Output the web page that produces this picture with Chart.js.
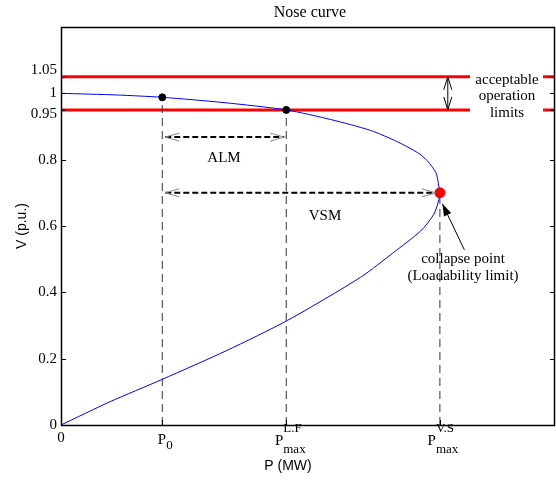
<!DOCTYPE html>
<html>
<head>
<meta charset="utf-8">
<script src="https://cdn.jsdelivr.net/npm/chart.js@4.4.0/dist/chart.umd.min.js"></script>
<style>
  body { margin: 0; background: #fff; }
  canvas { display: block; }
</style>
</head>
<body>
<canvas id="myChart" width="556" height="481"></canvas>
<script>
// axis ranges
const xMax = 100;
const yMax = 1.2;

// nose curve, lower branch then upper branch
const lowerP = [0, 9.9, 20.4, 33.6, 45.8, 60.6, 67.3, 72.8, 75.5, 76.5, 76.7];
const lowerV = [0, 0.07, 0.137, 0.225, 0.315, 0.445, 0.52, 0.585, 0.636, 0.68, 0.70];
const upperP = [76.7, 76.3, 75.9, 74.2, 72.2, 68.1, 62.7, 54.6, 45.6, 33, 20.5, 11.3, 0];
const upperV = [0.70, 0.736, 0.761, 0.796, 0.821, 0.854, 0.888, 0.921, 0.95, 0.972, 0.988, 0.995, 1.0];

// operating points
const P0 = 20.5, V0 = 0.988;
const PLF = 45.6, VLF = 0.95;
const PVS = 76.7, VVS = 0.70;

// limits and margins
const vLow = 0.95, vHigh = 1.05;
const almV = 0.868;
const limitArrowP = 78.3;

// ticks
const yTicks = [0, 0.2, 0.4, 0.6, 0.8, 0.95, 1, 1.05];
const yTickLabels = ['0', '0.2', '0.4', '0.6', '0.8', '0.95', '1', '1.05'];
const xTicks = [0, P0, PLF, PVS];

const serif = '"Liberation Serif", "Times New Roman", serif';
const sans = '"Liberation Sans", Arial, sans-serif';

const nose = [];
lowerP.forEach((p, i) => nose.push({x: p, y: lowerV[i]}));
upperP.forEach((p, i) => nose.push({x: p, y: upperV[i]}));

function vline(p, v) {
  return {
    data: [{x: p, y: 0}, {x: p, y: v}],
    showLine: true, borderColor: '#333', borderWidth: 1, borderDash: [8, 5],
    pointRadius: 0
  };
}
function hline(v) {
  return {
    data: [{x: 0, y: v}, {x: xMax, y: v}],
    showLine: true, borderColor: '#ff0000', borderWidth: 3, pointRadius: 0
  };
}

function chevron(ctx, x, y, dir) {
  ctx.save();
  ctx.strokeStyle = '#888';
  ctx.lineWidth = 1;
  ctx.setLineDash([]);
  ctx.beginPath();
  ctx.moveTo(x - dir * 14, y - 4);
  ctx.lineTo(x, y);
  ctx.lineTo(x - dir * 14, y + 4);
  ctx.stroke();
  ctx.restore();
}

function dashedArrow(ctx, x1, x2, y) {
  ctx.save();
  ctx.strokeStyle = '#000';
  ctx.lineWidth = 2;
  ctx.setLineDash([6, 3]);
  ctx.beginPath();
  ctx.moveTo(x1, y);
  ctx.lineTo(x2, y);
  ctx.stroke();
  ctx.restore();
  chevron(ctx, x1, y, -1);
  chevron(ctx, x2, y, 1);
}

function pLabel(ctx, x, y, sub, sup) {
  ctx.font = '15px ' + serif;
  const wP = ctx.measureText('P').width;
  ctx.font = '13px ' + serif;
  const wS = Math.max(ctx.measureText(sub).width, sup ? ctx.measureText(sup).width : 0);
  const left = x - (wP + wS) / 2;
  ctx.textAlign = 'left';
  ctx.textBaseline = 'middle';
  ctx.font = '15px ' + serif;
  ctx.fillText('P', left, y);
  ctx.font = '13px ' + serif;
  ctx.fillText(sub, left + wP, y + (sup ? 9 : 6));
  if (sup) ctx.fillText(sup, left + wP, y - 12);
}

const noseDecor = {
  id: 'noseDecor',
  afterDatasetsDraw(chart) {
    const ctx = chart.ctx;
    const a = chart.chartArea;
    const xs = chart.scales.x, ys = chart.scales.y;

    // white box behind the limit text
    ctx.fillStyle = '#fff';
    ctx.fillRect(470, ys.getPixelForValue(vHigh) - 3, 73, ys.getPixelForValue(vLow) - ys.getPixelForValue(vHigh) + 6);

    // frame
    ctx.save();
    ctx.strokeStyle = '#000';
    ctx.lineWidth = 1.5;
    ctx.strokeRect(a.left + 0.5, a.top + 0.5, a.right - a.left - 1, a.bottom - a.top);
    // inward ticks
    ctx.lineWidth = 1;
    ctx.beginPath();
    yTicks.forEach(t => {
      const y = Math.round(ys.getPixelForValue(t)) + 0.5;
      ctx.moveTo(a.left, y); ctx.lineTo(a.left + 5, y);
      ctx.moveTo(a.right, y); ctx.lineTo(a.right - 5, y);
    });
    xTicks.forEach(t => {
      const x = Math.round(xs.getPixelForValue(t)) + 0.5;
      ctx.moveTo(x, a.bottom); ctx.lineTo(x, a.bottom - 5);
    });
    ctx.stroke();
    ctx.restore();

    // ALM and VSM margins
    const yAlm = ys.getPixelForValue(almV);
    dashedArrow(ctx, xs.getPixelForValue(P0) + 3, xs.getPixelForValue(PLF) - 2, yAlm);
    const yVsm = ys.getPixelForValue(VVS);
    dashedArrow(ctx, xs.getPixelForValue(P0) + 3, xs.getPixelForValue(PVS) - 4, yVsm);

    // limit double arrow
    const xa = xs.getPixelForValue(limitArrowP);
    const y1 = ys.getPixelForValue(vHigh), y2 = ys.getPixelForValue(vLow);
    ctx.save();
    ctx.strokeStyle = '#000';
    ctx.lineWidth = 1;
    ctx.beginPath();
    ctx.moveTo(xa, y1); ctx.lineTo(xa, y2);
    ctx.moveTo(xa - 4, y1 + 13); ctx.lineTo(xa, y1); ctx.lineTo(xa + 4, y1 + 13);
    ctx.moveTo(xa - 4, y2 - 13); ctx.lineTo(xa, y2); ctx.lineTo(xa + 4, y2 - 13);
    ctx.stroke();

    // collapse point arrow
    const cx = xs.getPixelForValue(PVS) + 2.5, cy = ys.getPixelForValue(VVS) + 11;
    const tx = cx + 22, ty = cy + 46;
    const ang = Math.atan2(cy - ty, cx - tx);
    ctx.beginPath();
    ctx.moveTo(tx, ty); ctx.lineTo(cx, cy);
    ctx.stroke();
    ctx.fillStyle = '#000';
    ctx.beginPath();
    ctx.moveTo(cx, cy);
    ctx.lineTo(cx - 12 * Math.cos(ang) + 4 * Math.sin(ang), cy - 12 * Math.sin(ang) - 4 * Math.cos(ang));
    ctx.lineTo(cx - 12 * Math.cos(ang) - 4 * Math.sin(ang), cy - 12 * Math.sin(ang) + 4 * Math.cos(ang));
    ctx.closePath();
    ctx.fill();
    ctx.restore();

    // texts
    ctx.fillStyle = '#000';
    ctx.textBaseline = 'middle';
    ctx.textAlign = 'center';
    ctx.font = '16px ' + serif;
    ctx.fillText('Nose curve', 310, 13);
    ctx.font = '15px ' + serif;
    ctx.fillText('ALM', 224, yAlm + 21);
    ctx.fillText('VSM', 325, yVsm + 23);
    ctx.fillText('acceptable', 507, 80);
    ctx.fillText('operation', 507, 96);
    ctx.fillText('limits', 507, 113);
    ctx.fillText('collapse point', 463, 259);
    ctx.fillText('(Loadability limit)', 463, 276);

    // y tick labels
    ctx.textAlign = 'right';
    yTicks.forEach((t, i) => {
      let off = 0;
      if (t === vHigh) off = -7;
      if (t === vLow) off = 4;
      ctx.fillText(yTickLabels[i], a.left - 4, ys.getPixelForValue(t) + off);
    });

    // x tick labels
    ctx.textAlign = 'center';
    ctx.fillText('0', xs.getPixelForValue(0), a.bottom + 13);
    pLabel(ctx, xs.getPixelForValue(P0) + 3, a.bottom + 15, '0');
    pLabel(ctx, xs.getPixelForValue(PLF) + 4, a.bottom + 16, 'max', 'L.F');
    pLabel(ctx, xs.getPixelForValue(PVS) + 3, a.bottom + 16, 'max', 'V.S');

    // axis titles
    ctx.textAlign = 'center';
    ctx.font = '14px ' + sans;
    ctx.fillText('P (MW)', 288, 466);
    ctx.save();
    ctx.translate(22, 226);
    ctx.rotate(-Math.PI / 2);
    ctx.fillText('V (p.u.)', 0, 0);
    ctx.restore();
  }
};

new Chart(document.getElementById('myChart'), {
  type: 'scatter',
  data: {
    datasets: [
      { data: [{x: PVS, y: VVS}], pointRadius: 5, backgroundColor: '#ff0000', borderColor: '#ff0000' },
      { data: [{x: P0, y: V0}, {x: PLF, y: VLF}], pointRadius: 3.5, backgroundColor: '#000', borderColor: '#000' },
      { data: nose, showLine: true, borderColor: '#0000ff', borderWidth: 1, pointRadius: 0, tension: 0.25 },
      vline(P0, V0),
      vline(PLF, VLF),
      vline(PVS, VVS),
      hline(vHigh),
      hline(vLow)
    ]
  },
  options: {
    responsive: false,
    animation: false,
    layout: { autoPadding: false, padding: { top: 27, right: 1, left: 0, bottom: 0 } },
    plugins: { legend: { display: false }, tooltip: { enabled: false } },
    scales: {
      x: {
        type: 'linear', min: 0, max: xMax,
        grid: { display: false }, border: { display: false },
        ticks: { display: false },
        afterFit(s) { s.height = 56; }
      },
      y: {
        type: 'linear', min: 0, max: yMax,
        grid: { display: false }, border: { display: false },
        ticks: { display: false },
        afterFit(s) { s.width = 61; }
      }
    }
  },
  plugins: [noseDecor]
});
</script>
</body>
</html>
